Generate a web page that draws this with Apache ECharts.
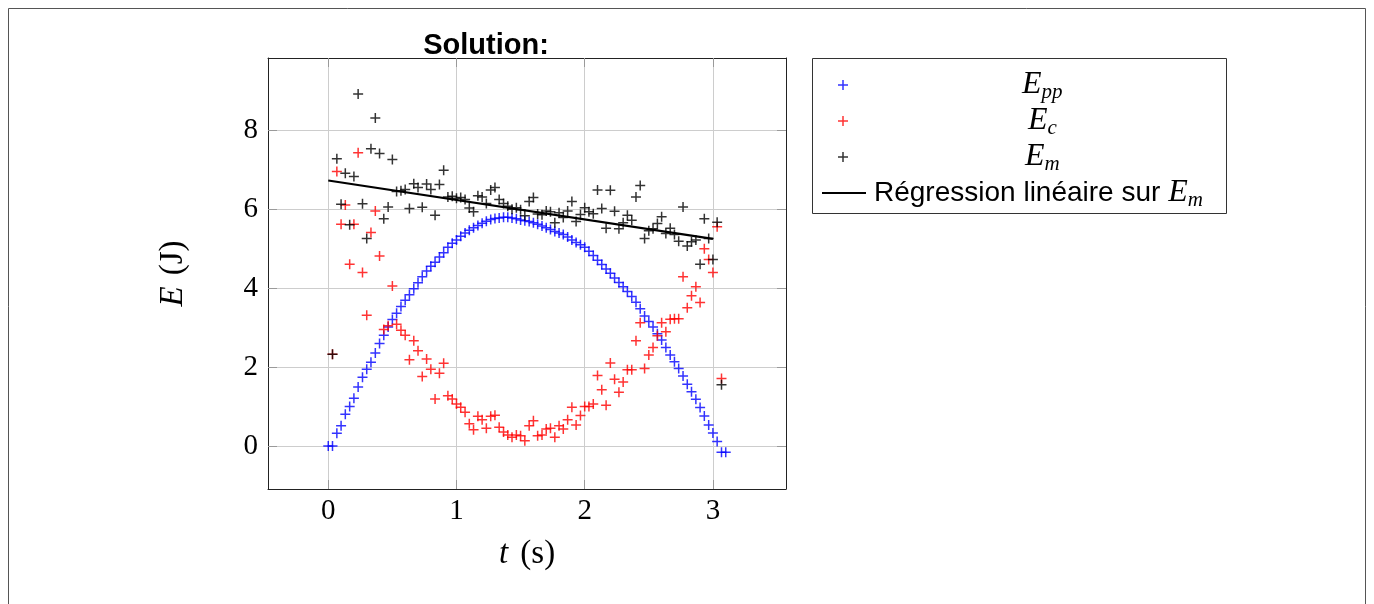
<!DOCTYPE html>
<html><head><meta charset="utf-8">
<script src="https://cdn.jsdelivr.net/npm/echarts@6/dist/echarts.min.js"></script>
<style>html,body{margin:0;padding:0;background:#fff;}#c{width:1374px;height:604px;}</style>
</head><body><div id="c"></div>
<script>
// time stamps (s)
const times = [0,0.033,0.067,0.1,0.133,0.167,0.2,0.233,0.267,0.3,
0.333,0.367,0.4,0.433,0.467,0.5,0.533,0.567,0.6,0.633,
0.667,0.7,0.733,0.767,0.8,0.833,0.867,0.9,0.933,0.967,
1,1.033,1.067,1.1,1.133,1.167,1.2,1.233,1.267,1.3,
1.333,1.367,1.4,1.433,1.467,1.5,1.533,1.567,1.6,1.633,
1.667,1.7,1.733,1.767,1.8,1.833,1.867,1.9,1.933,1.967,
2,2.033,2.067,2.1,2.133,2.167,2.2,2.233,2.267,2.3,
2.333,2.367,2.4,2.433,2.467,2.5,2.533,2.567,2.6,2.633,
2.667,2.7,2.733,2.767,2.8,2.833,2.867,2.9,2.933,2.967,
3,3.033,3.067,3.1];
// E_pp (J)
const epp = [0,0,0.32,0.51,0.80,1.00,1.21,1.49,1.74,1.94,
2.12,2.35,2.59,2.80,3.01,3.20,3.36,3.53,3.69,3.83,
3.98,4.13,4.28,4.43,4.55,4.65,4.78,4.89,5.03,5.13,
5.21,5.31,5.39,5.46,5.52,5.58,5.64,5.69,5.73,5.76,
5.77,5.79,5.79,5.77,5.75,5.72,5.70,5.68,5.65,5.61,
5.57,5.52,5.48,5.43,5.39,5.35,5.29,5.21,5.15,5.09,
5.03,4.93,4.82,4.70,4.59,4.48,4.37,4.25,4.14,4.03,
3.91,3.78,3.64,3.47,3.29,3.15,3.01,2.84,2.68,2.49,
2.30,2.13,1.96,1.77,1.56,1.37,1.18,0.97,0.76,0.53,
0.33,0.11,-0.16,-0.16];
// E_c (J)
const ec = [null,2.32,6.95,5.61,6.10,4.60,5.61,7.42,4.39,3.31,
5.40,5.95,4.81,2.95,3.04,4.05,3.08,2.93,2.80,2.18,
2.66,2.41,1.76,2.20,1.94,1.19,1.84,2.09,1.27,1.19,
1.06,0.98,0.85,0.56,0.41,0.75,0.66,0.45,0.75,0.78,
0.47,0.35,0.28,0.22,0.28,0.26,0.13,0.51,0.64,0.26,
0.28,0.43,0.45,0.22,0.51,0.43,0.66,0.98,0.53,0.77,
1.00,1.00,1.06,1.78,1.42,1.03,2.10,1.69,1.36,1.62,
1.93,1.93,2.66,3.12,1.96,2.30,2.49,2.79,3.12,2.89,
3.21,3.22,3.22,4.28,3.50,3.80,4.03,3.63,4.99,4.72,
4.39,5.55,1.71,null];
// E_m (J)
const em = [null,2.32,7.27,6.12,6.90,5.60,6.82,8.91,6.13,5.25,
7.52,8.30,7.40,5.75,6.05,7.25,6.44,6.46,6.49,6.01,
6.64,6.54,6.04,6.63,6.49,5.84,6.62,6.98,6.30,6.32,
6.27,6.29,6.24,6.02,5.93,6.33,6.30,6.14,6.48,6.54,
6.24,6.14,6.07,5.99,6.03,5.98,5.83,6.19,6.29,5.87,
5.85,5.95,5.93,5.65,5.90,5.78,5.95,6.19,5.68,5.86,
6.03,5.93,5.88,6.48,6.01,5.51,6.47,5.94,5.50,5.65,
5.84,5.71,6.30,6.59,5.25,5.45,5.50,5.63,5.80,5.38,
5.51,5.35,5.18,6.05,5.06,5.17,5.21,4.60,5.75,5.25,
4.72,5.66,1.55,null];
// linear regression on E_m
const regT = [0, 3.0];
const regE = [6.72, 5.24];
const xTicks = [0, 1, 2, 3];
const yTicks = [0, 2, 4, 6, 8];
const xRange = [-0.47, 3.57];
const yRange = [-1.09, 9.82];

function pairs(ts, vs) { const out = []; for (let i = 0; i < ts.length; i++) if (vs[i] !== null) out.push([ts[i], vs[i]]); return out; }

const PLUS = 'path://M4.25,0H5.75V4.25H10V5.75H5.75V10H4.25V5.75H0V4.25H4.25Z';
const SERIF = 'Liberation Serif';
const SANS = 'Liberation Sans';
const rich = {
  e: {fontFamily: SERIF, fontStyle: 'italic', fontSize: 32, lineHeight: 30, color: '#000'},
  s: {fontFamily: SERIF, fontStyle: 'italic', fontSize: 21, lineHeight: 30, padding: [15, 0, 0, 0], color: '#000'},
  r: {fontFamily: SANS, fontSize: 28, lineHeight: 30, color: '#000'},
  sp1: {width: 169, lineHeight: 30}, sp2: {width: 175, lineHeight: 30},
  sp3: {width: 172, lineHeight: 30}, sp4: {width: 3, lineHeight: 30}
};
function mkLegend(item, left, top, w, h, fmt) {
  return {data: [item], left: left, top: top, orient: 'vertical', padding: 0, itemWidth: w, itemHeight: h,
    selectedMode: false, formatter: () => fmt, textStyle: {lineHeight: 30, rich: rich}};
}
const axisCommonX = {type: 'value', min: xRange[0], max: xRange[1], splitNumber: 4};
const axisCommonY = {type: 'value', min: yRange[0], max: yRange[1], splitNumber: 5};
const tickStyle = {color: '#9a9a9a', width: 1};
const frame = {show: true, onZero: false, lineStyle: {color: '#222', width: 1}};

const chart = echarts.init(document.getElementById('c'));
chart.setOption({
  animation: false,
  backgroundColor: '#fff',
  title: {text: 'Solution:', left: 486, top: 31, padding: 0, textAlign: 'center',
    textStyle: {fontFamily: SANS, fontWeight: 'bold', fontSize: 29, color: '#000'}},
  grid: {left: 268, top: 58, width: 518, height: 431, show: false},
  legend: [
    mkLegend('Epp', 838, 67, 10, 10, '{sp1| }{e|E}{s|pp}'),
    mkLegend('Ec', 838, 103, 10, 10, '{sp2| }{e|E}{s|c}'),
    mkLegend('Em', 838, 139, 10, 10, '{sp3| }{e|E}{s|m}'),
    mkLegend({name: 'Reg', icon: 'rect'}, 822, 175, 44, 2, '{sp4| }{r|Régression linéaire sur }{e|E}{s|m}')
  ],
  graphic: [
    {type: 'rect', shape: {x: 8.5, y: 8.5, width: 1357, height: 620}, style: {fill: 'none', stroke: '#555', lineWidth: 1}, silent: true, z: -10},
    {type: 'rect', shape: {x: 812.5, y: 58.5, width: 414, height: 155}, style: {fill: 'none', stroke: '#333', lineWidth: 1}, silent: true}
  ],
  xAxis: [
    Object.assign({}, axisCommonX, {position: 'bottom', axisLine: frame,
      axisTick: {show: true, inside: true, length: 9, customValues: xTicks, lineStyle: tickStyle},
      axisLabel: {customValues: xTicks, margin: 8, fontFamily: SERIF, fontSize: 29, color: '#000'},
      splitLine: {show: true, lineStyle: {color: '#cdcdcd', width: 1}},
      name: '{i|t} (s)', nameLocation: 'middle', nameGap: 49,
      nameTextStyle: {fontFamily: SERIF, fontSize: 33, color: '#000', rich: {i: {fontFamily: SERIF, fontStyle: 'italic', fontSize: 33, color: '#000', padding: [0, 4, 0, 0]}}}}),
    Object.assign({}, axisCommonX, {position: 'top', axisLine: frame,
      axisTick: {show: true, inside: true, length: 9, customValues: xTicks, lineStyle: tickStyle},
      axisLabel: {show: false}, splitLine: {show: false}})
  ],
  yAxis: [
    Object.assign({}, axisCommonY, {position: 'left', axisLine: frame,
      axisTick: {show: true, inside: true, length: 9, customValues: yTicks, lineStyle: tickStyle},
      axisLabel: {customValues: yTicks, margin: 10, fontFamily: SERIF, fontSize: 29, color: '#000'},
      splitLine: {show: true, lineStyle: {color: '#cdcdcd', width: 1}},
      name: '{i|E} (J)', nameLocation: 'middle', nameGap: 78,
      nameTextStyle: {fontFamily: SERIF, fontSize: 33, color: '#000', rich: {i: {fontFamily: SERIF, fontStyle: 'italic', fontSize: 33, color: '#000', padding: [0, 3, 0, 0]}}}}),
    Object.assign({}, axisCommonY, {position: 'right', axisLine: frame,
      axisTick: {show: true, inside: true, length: 9, customValues: yTicks, lineStyle: tickStyle},
      axisLabel: {show: false}, splitLine: {show: false}})
  ],
  series: [
    {name: 'Epp', type: 'scatter', data: pairs(times, epp), symbol: PLUS, symbolSize: 10, itemStyle: {color: '#0000ff'}, silent: true},
    {name: 'Ec', type: 'scatter', data: pairs(times, ec), symbol: PLUS, symbolSize: 10, itemStyle: {color: '#ff0000'}, silent: true},
    {name: 'Em', type: 'scatter', data: pairs(times, em), symbol: PLUS, symbolSize: 10, itemStyle: {color: '#000000'}, silent: true},
    {name: 'Reg', type: 'line', data: regT.map((t, i) => [t, regE[i]]), symbol: 'none', showSymbol: false,
      lineStyle: {color: '#000', width: 2.2}, itemStyle: {color: '#000'}, silent: true}
  ]
});
</script></body></html>
